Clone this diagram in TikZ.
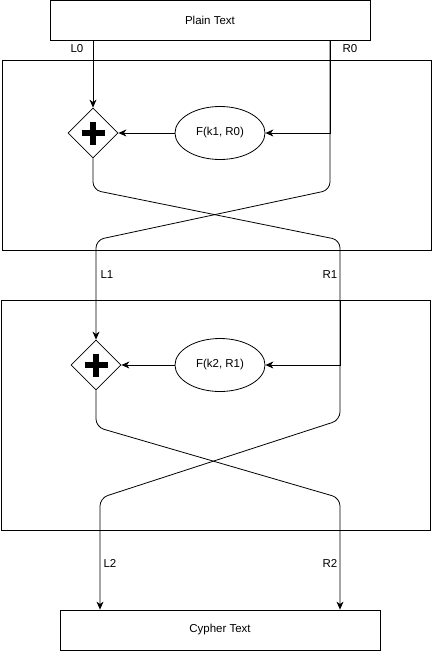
\documentclass[tikz,border=0pt]{standalone}
\usepackage{fontspec}
\setmainfont{Liberation Sans}
\usetikzlibrary{arrows.meta,shapes.geometric}

\begin{document}
\begin{tikzpicture}[x=1pt,y=-1pt,>={Stealth[length=8pt,width=7pt,inset=2.5pt]},line width=0.8pt,
                    font=\fontsize{11.5}{13}\selectfont,
                    blk/.style={draw,minimum width=320pt,minimum height=40pt,inner sep=0pt},
                    roundbox/.style={draw,minimum width=429pt,inner sep=0pt},
                    xorgate/.style={diamond,draw,minimum width=50pt,minimum height=50pt,inner sep=0pt},
                    ffun/.style={ellipse,draw,minimum width=90pt,minimum height=53pt,inner sep=0pt}]
  \useasboundingbox (0,0) rectangle (433,651);
  % the two rounds
  \node[roundbox,minimum height=190pt] (rnd1) at (216.5,155) {};
  \node[roundbox,minimum height=230pt] (rnd2) at (216,415) {};
  % input and output
  \node[blk] (plain) at (210,20) {Plain Text};
  \node[blk] (cypher) at (220,630) {Cypher Text};
  % round functions
  \node[xorgate] (x1) at (93,133) {};
  \node[ffun] (f1) at (220,133) {F(k1, R0)};
  \node[xorgate] (x2) at (96,365) {};
  \node[ffun] (f2) at (220,365) {F(k2, R1)};
  \foreach \g in {x1,x2}{
    \draw[line width=5.5pt] ([xshift=-11.5pt]\g.center) -- ([xshift=11.5pt]\g.center);
    \draw[line width=5.5pt] ([yshift=-11.5pt]\g.center) -- ([yshift=11.5pt]\g.center);
  }
  % wire labels
  \node (lL0) at (77,49) {L0};
  \node (lR0) at (350,49) {R0};
  \node (lL1) at (107,275) {L1};
  \node (lR1) at (330,275) {R1};
  \node (lL2) at (110,563) {L2};
  \node (lR2) at (330,563) {R2};
  % round 1
  \coordinate (r0) at (330,40);
  \draw[->] (plain.south -| x1) -- (x1.north);
  \draw[->] (r0) |- (f1.east);
  \draw[->] (f1) -- (x1);
  \draw[->,rounded corners=8pt] (r0) -- (330,190) -- (96,240) -- (x2.north);
  % round 2
  \coordinate (r1) at (340,300);
  \draw[->,rounded corners=8pt] (x1.south) -- (93,190) -- (340,240) -- (340,420) -- (100,498) -- (cypher.north -| 100,0);
  \draw[->] (r1) |- (f2.east);
  \draw[->] (f2) -- (x2);
  \draw[->,rounded corners=8pt] (x2.south) -- (96,427) -- (340,498) -- (cypher.north -| r1);
\end{tikzpicture}
\end{document}
